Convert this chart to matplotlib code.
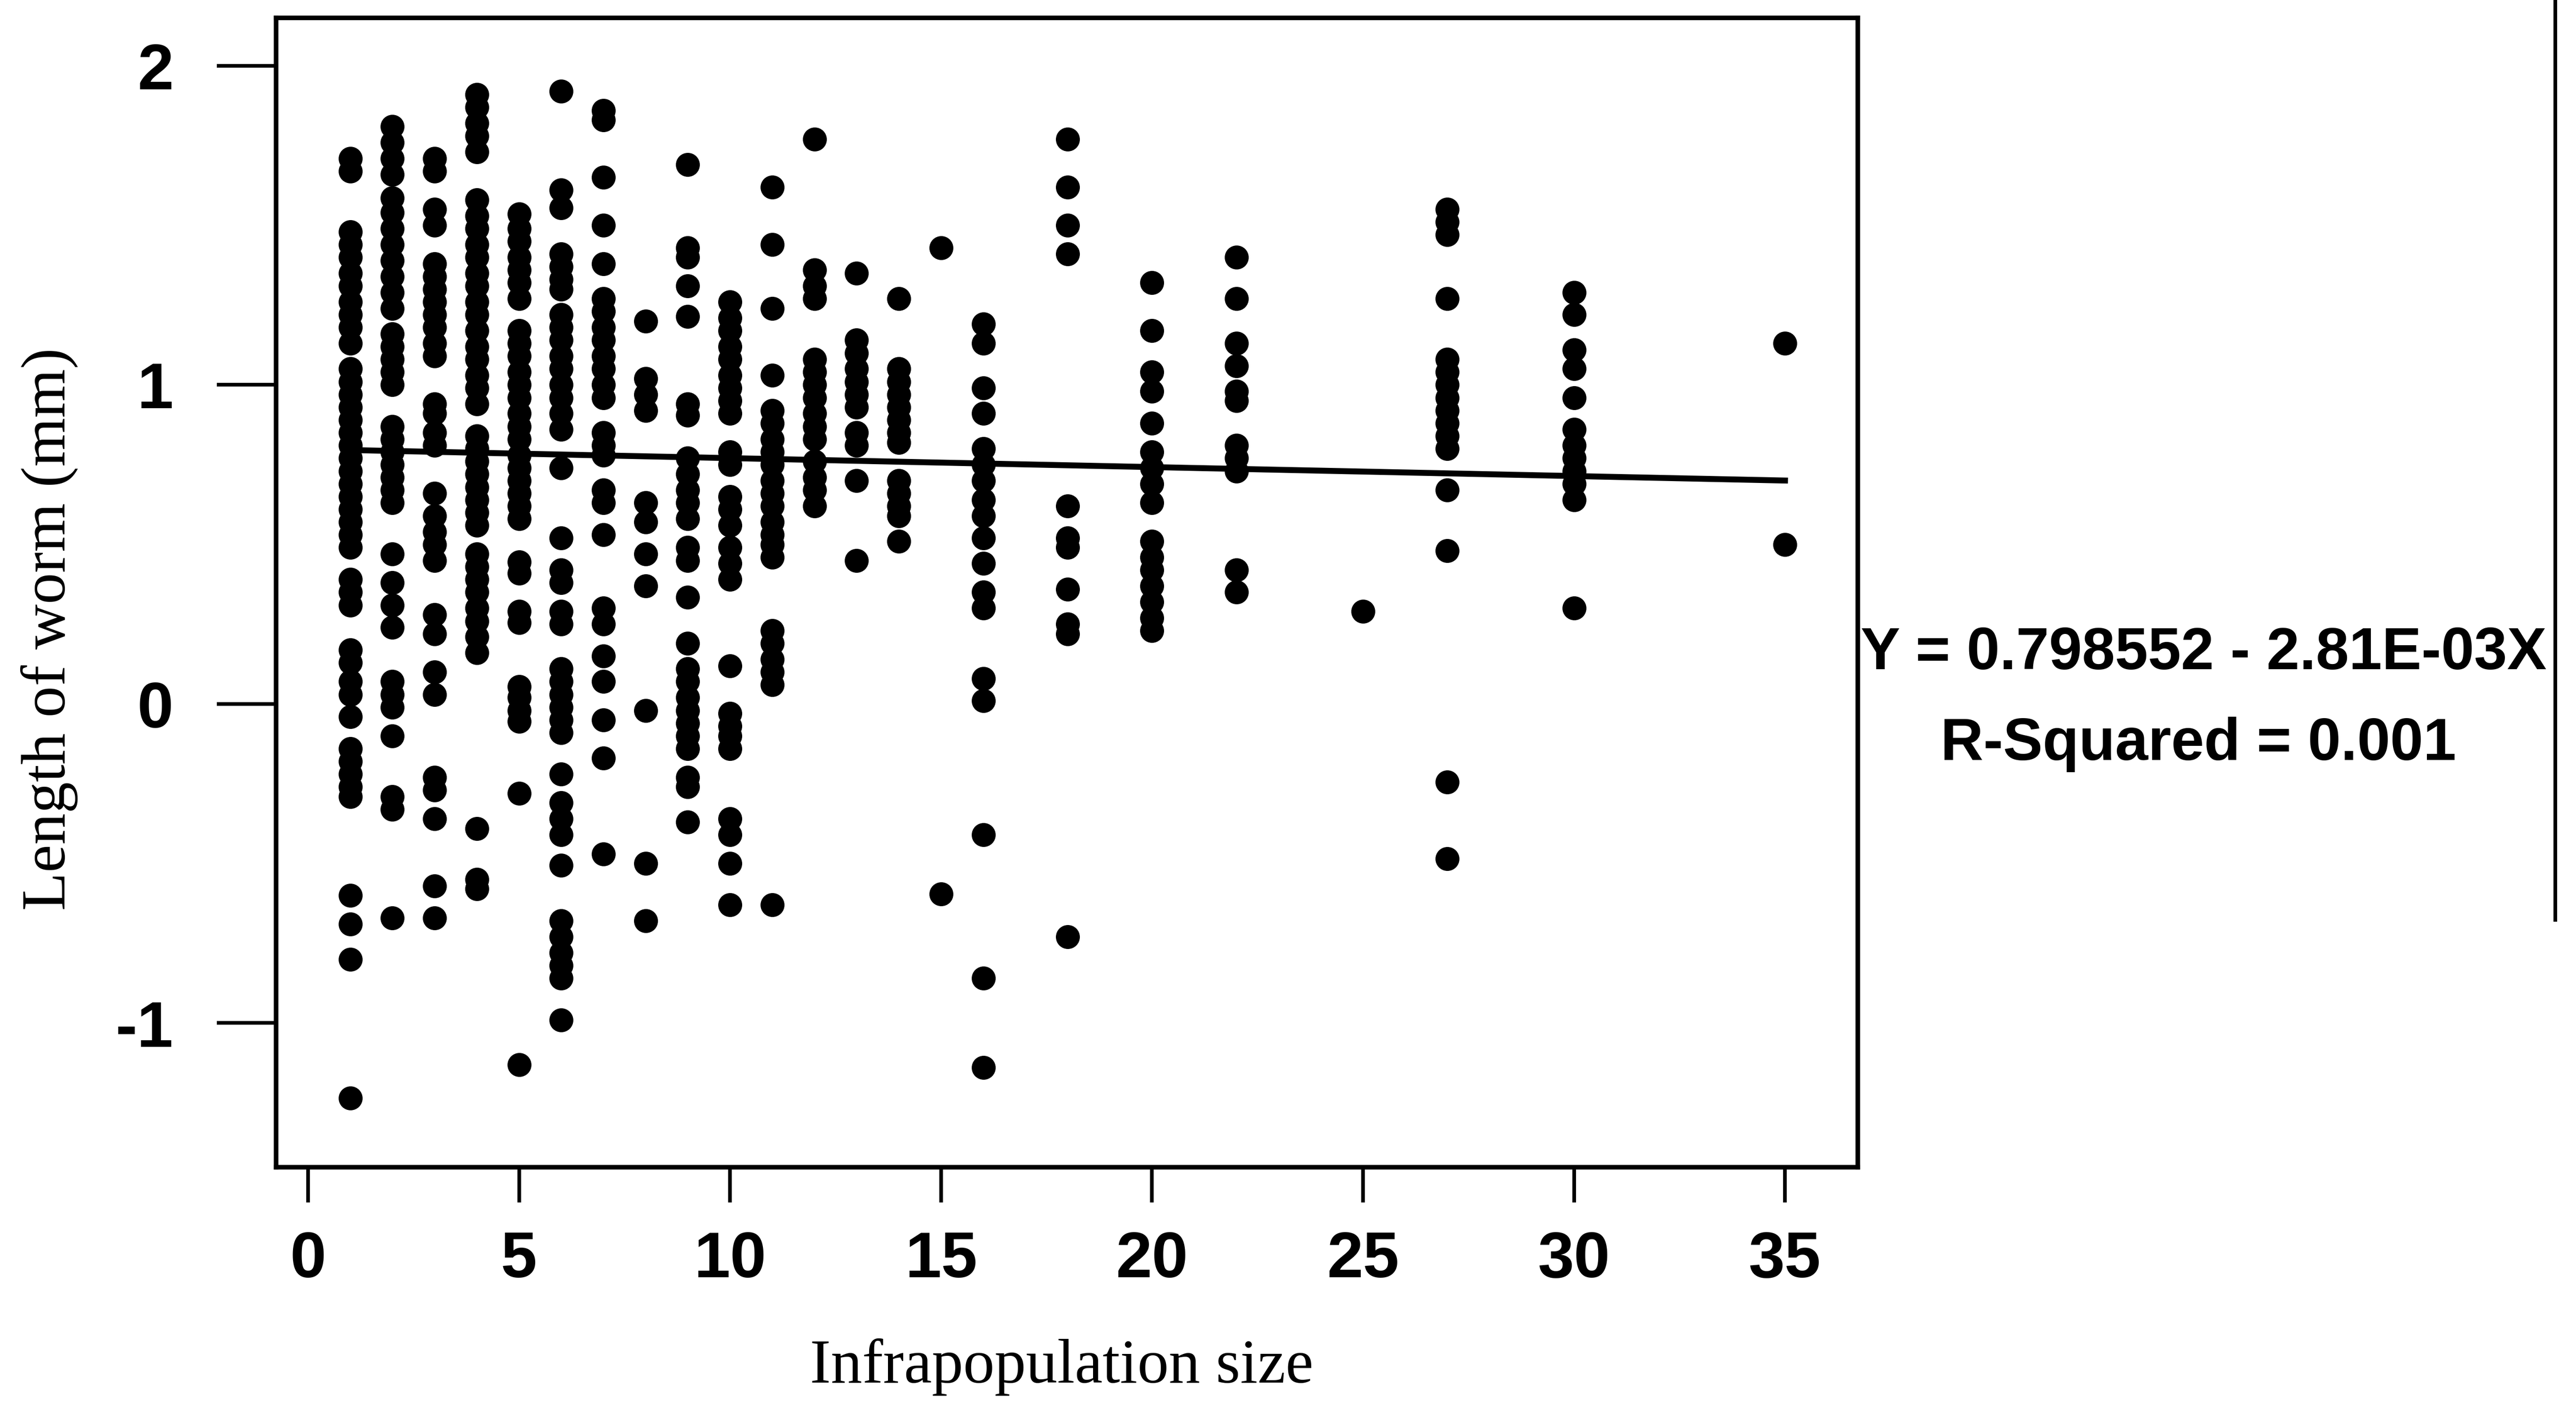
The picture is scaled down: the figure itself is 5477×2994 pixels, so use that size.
import matplotlib
matplotlib.use("Agg")
import matplotlib.pyplot as plt
from matplotlib.lines import Line2D
import numpy as np

plt.rcParams["axes.unicode_minus"] = False

# ---- data: worm length (mm) per infrapopulation size ----
len_1 = [1.71, 1.67, 1.48, 1.44, 1.40, 1.35, 1.31, 1.26, 1.22, 1.18, 1.13,
         1.05, 1.01, 0.97, 0.93, 0.89, 0.85, 0.81, 0.77, 0.73, 0.69, 0.65, 0.61, 0.57, 0.53, 0.49,
         0.39, 0.35, 0.31, 0.17, 0.13, 0.07, 0.03, -0.04,
         -0.14, -0.18, -0.22, -0.26, -0.29, -0.60, -0.69, -0.80, -1.235]
len_2 = [1.81, 1.76, 1.71, 1.66, 1.585, 1.54, 1.49, 1.44, 1.39, 1.34, 1.29, 1.24,
         1.16, 1.12, 1.08, 1.04, 1.00, 0.87, 0.83, 0.79, 0.75, 0.71, 0.67, 0.63,
         0.47, 0.38, 0.31, 0.24, 0.07, 0.03, -0.01, -0.10, -0.29, -0.33, -0.67]
len_3 = [1.71, 1.67, 1.55, 1.50, 1.38, 1.34, 1.30, 1.26, 1.22, 1.18, 1.13, 1.09,
         0.94, 0.91, 0.85, 0.81, 0.66, 0.59, 0.54, 0.50, 0.45, 0.28, 0.22, 0.10, 0.03,
         -0.23, -0.27, -0.36, -0.57, -0.67]
len_4 = [1.91, 1.87, 1.82, 1.78, 1.73,
         1.58, 1.53, 1.49, 1.44, 1.40, 1.35, 1.31, 1.26, 1.22, 1.17, 1.12, 1.08, 1.03, 0.99, 0.94,
         0.84, 0.80, 0.76, 0.72, 0.68, 0.64, 0.60, 0.56,
         0.47, 0.43, 0.39, 0.35, 0.30, 0.26, 0.21, 0.16, -0.39, -0.55, -0.58]
len_5 = [1.535, 1.49, 1.45, 1.40, 1.36, 1.32, 1.27,
         1.17, 1.13, 1.09, 1.04, 1.00, 0.96, 0.91, 0.87, 0.83, 0.78, 0.74, 0.70, 0.66, 0.62, 0.58,
         0.445, 0.41, 0.29, 0.255, 0.055, 0.02, -0.02, -0.055, -0.28, -1.13]
len_6 = [1.92, 1.61, 1.555, 1.41, 1.37, 1.33, 1.30,
         1.22, 1.18, 1.14, 1.09, 1.05, 1.00, 0.96, 0.91, 0.86, 0.74, 0.52, 0.42, 0.38, 0.29, 0.25,
         0.11, 0.07, 0.03, -0.01, -0.05, -0.09, -0.22, -0.31, -0.36, -0.41, -0.505,
         -0.68, -0.73, -0.78, -0.82, -0.86, -0.99]
len_7 = [1.86, 1.83, 1.65, 1.50, 1.38, 1.27, 1.23, 1.18, 1.14, 1.09, 1.05, 1.00, 0.96,
         0.85, 0.81, 0.78, 0.67, 0.63, 0.53, 0.30, 0.25, 0.15, 0.07, -0.05, -0.17, -0.47]
len_8 = [1.20, 1.02, 0.97, 0.92, 0.63, 0.57, 0.47, 0.37, -0.02, -0.50, -0.68]
len_9 = [1.69, 1.43, 1.40, 1.31, 1.215, 0.94, 0.905, 0.77, 0.72, 0.67, 0.63, 0.58,
         0.49, 0.45, 0.335, 0.19, 0.11, 0.07, 0.02, -0.02, -0.06, -0.10, -0.14,
         -0.23, -0.26, -0.37]
len_10 = [1.26, 1.21, 1.17, 1.12, 1.08, 1.03, 0.99, 0.95, 0.91, 0.79, 0.75,
          0.65, 0.61, 0.56, 0.49, 0.44, 0.39, 0.12, -0.03, -0.07, -0.10, -0.14,
          -0.36, -0.41, -0.50, -0.63]
len_11 = [1.62, 1.44, 1.24, 1.03, 0.92, 0.88, 0.83, 0.79, 0.75, 0.70, 0.66, 0.62,
          0.57, 0.53, 0.50, 0.46, 0.23, 0.19, 0.14, 0.10, 0.06, -0.63]
len_12 = [1.77, 1.36, 1.31, 1.27, 1.08, 1.04, 1.00, 0.96, 0.91, 0.87, 0.83,
          0.76, 0.71, 0.67, 0.62]
len_13 = [1.35, 1.14, 1.10, 1.05, 1.01, 0.97, 0.93, 0.85, 0.81, 0.70, 0.45]
len_14 = [1.27, 1.05, 1.01, 0.97, 0.93, 0.89, 0.85, 0.82, 0.70, 0.66, 0.62, 0.59, 0.51]
len_15 = [1.43, -0.595]
len_16 = [1.19, 1.13, 0.99, 0.91, 0.80, 0.75, 0.70, 0.64, 0.59, 0.52, 0.44, 0.35, 0.30,
          0.08, 0.01, -0.41, -0.86, -1.14]
len_18 = [1.77, 1.62, 1.50, 1.41, 0.62, 0.52, 0.49, 0.36, 0.25, 0.22, -0.73]
len_20 = [1.32, 1.17, 1.04, 0.98, 0.88, 0.79, 0.74, 0.69, 0.63, 0.51, 0.46, 0.42,
          0.37, 0.32, 0.27, 0.23]
len_22 = [1.40, 1.27, 1.13, 1.06, 0.98, 0.95, 0.81, 0.77, 0.73, 0.42, 0.35]
len_25 = [0.29]
len_27 = [1.55, 1.51, 1.47, 1.27, 1.08, 1.04, 1.00, 0.96, 0.92, 0.88, 0.84, 0.80,
          0.67, 0.48, -0.245, -0.485]
len_30 = [1.29, 1.22, 1.11, 1.05, 0.96, 0.86, 0.81, 0.77, 0.73, 0.69, 0.64, 0.30]
len_35 = [1.13, 0.50]

sizes = [1, 2, 3, 4, 5, 6, 7, 8, 9, 10, 11, 12, 13, 14, 15, 16, 18, 20, 22, 25, 27, 30, 35]
columns = [len_1, len_2, len_3, len_4, len_5, len_6, len_7, len_8, len_9, len_10,
           len_11, len_12, len_13, len_14, len_15, len_16, len_18, len_20, len_22,
           len_25, len_27, len_30, len_35]

# regression
intercept = 0.798552
slope = -2.81e-03
eq_text = "Y = 0.798552 - 2.81E-03X"
r2_text = "R-Squared = 0.001"

x_ticks = [0, 5, 10, 15, 20, 25, 30, 35]
y_ticks = [-1, 0, 1, 2]
x_label = "Infrapopulation size"
y_label = "Length of worm (mm)"

xs = np.concatenate([[s] * len(c) for s, c in zip(sizes, columns)])
ys = np.concatenate([np.asarray(c, float) for c in columns])

# ---- figure ----
fig = plt.figure(figsize=(15.68, 8.57), dpi=349.36)
ax = fig.add_axes([168 / 1568, 1 - 710.5 / 857, (1130.5 - 168) / 1568, (710.5 - 10.9) / 857])

ax.plot(xs, ys, "o", color="black", markersize=10.5, markeredgewidth=0, zorder=3)
xl = np.array([min(sizes), max(sizes)])
ax.plot(xl, intercept + slope * xl, color="black", lw=2.6, zorder=2)

ax.set_xlim(-0.759, 36.72)
ax.set_ylim(-1.452, 2.150)
ax.set_xticks(x_ticks)
ax.set_yticks(y_ticks)

sans = ["Liberation Sans", "DejaVu Sans"]
serif = ["Liberation Serif", "DejaVu Serif"]
for lab in ax.get_xticklabels() + ax.get_yticklabels():
    lab.set_fontfamily(sans)
    lab.set_fontweight("bold")
    lab.set_fontsize(28.5)
ax.tick_params(axis="x", direction="out", length=15.5, width=1.6, pad=12)
ax.tick_params(axis="y", direction="out", length=26, width=1.6, pad=19)
for sp in ax.spines.values():
    sp.set_linewidth(2.0)

fig.text(646 / 1568, 1 - 832 / 857, x_label, family=serif, fontsize=27.5,
         ha="center", va="center")
fig.text(30 / 1568, 1 - 383 / 857, y_label, family=serif, fontsize=27.5,
         ha="center", va="center", rotation=90)

narrow = ["Liberation Sans Narrow", "Liberation Sans"]
fig.text(1341 / 1568, 1 - 398 / 857, eq_text, family=narrow, fontweight="bold",
         fontsize=26, ha="center", va="center")
fig.text(1338 / 1568, 1 - 453 / 857, r2_text, family=narrow, fontweight="bold",
         fontsize=26, ha="center", va="center")

# right-hand frame edge of the scanned page
fig.add_artist(Line2D([1555 / 1568, 1555 / 1568], [1.0, 1 - 560 / 857],
                      transform=fig.transFigure, color="black", lw=1.6))

fig.savefig("out.png", dpi=349.36, facecolor="white")
